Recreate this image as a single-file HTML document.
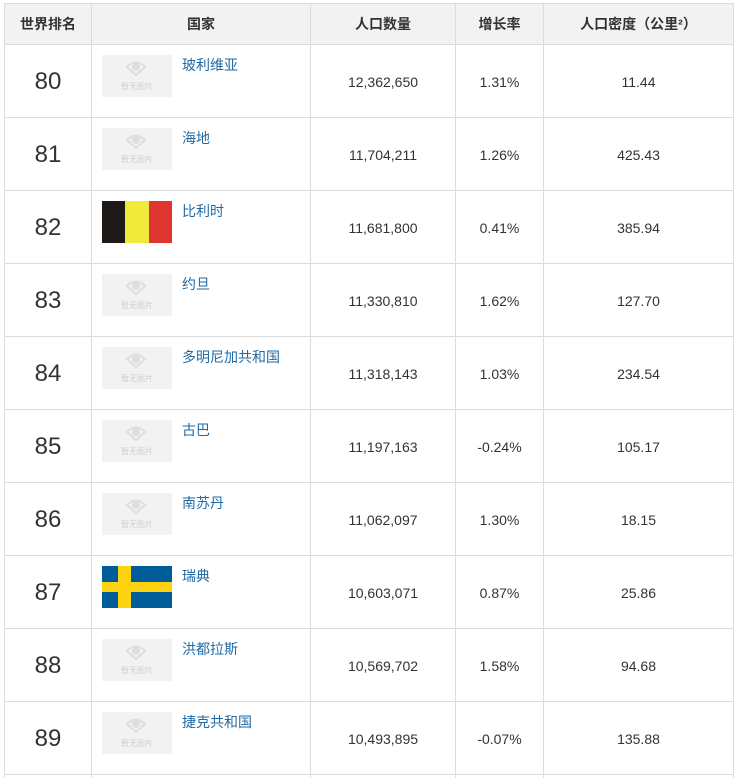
<!DOCTYPE html>
<html><head><meta charset="utf-8">
<style>
html,body{margin:0;padding:0;background:#fff;width:741px;height:778px;overflow:hidden;}
body{position:relative;font-family:"Liberation Sans","Noto Sans CJK SC",sans-serif;color:#333;}
.h{position:absolute;left:4px;width:730px;height:1px;background:#dcdcdc;}
.v{position:absolute;top:3px;height:775px;width:1px;background:#dcdcdc;}
.hdr{position:absolute;left:5px;top:4px;width:728px;height:40px;background:#f2f2f2;}
.c{position:absolute;display:flex;align-items:center;justify-content:center;white-space:nowrap;}
.hd{font-weight:bold;font-size:14px;top:4px;height:40px;line-height:20px;}
.rk{font-size:24px;padding-top:2px;box-sizing:border-box;}
.num{font-size:14px;padding-top:2px;box-sizing:border-box;}
.img{position:absolute;width:70px;height:42px;background:#f2f2f2;overflow:hidden;}
.img .ic{position:absolute;left:24px;top:5px;width:20px;height:16px;}
.img .tx{position:absolute;left:0;width:70px;top:27px;text-align:center;font-size:8px;line-height:10px;color:#cfcfcf;}
.nm{position:absolute;left:182px;font-size:14px;line-height:20px;color:#1f6aa5;white-space:nowrap;}
</style></head><body>
<div class="hdr"></div>
<div class="h" style="top:3px"></div>
<div class="h" style="top:44px"></div>
<div class="h" style="top:117px"></div>
<div class="h" style="top:190px"></div>
<div class="h" style="top:263px"></div>
<div class="h" style="top:336px"></div>
<div class="h" style="top:409px"></div>
<div class="h" style="top:482px"></div>
<div class="h" style="top:555px"></div>
<div class="h" style="top:628px"></div>
<div class="h" style="top:701px"></div>
<div class="h" style="top:774px"></div>
<div class="v" style="left:4px"></div>
<div class="v" style="left:91px"></div>
<div class="v" style="left:310px"></div>
<div class="v" style="left:455px"></div>
<div class="v" style="left:543px"></div>
<div class="v" style="left:733px"></div>

<div class="c hd" style="left:5px;width:86px">世界排名</div>
<div class="c hd" style="left:92px;width:218px">国家</div>
<div class="c hd" style="left:311px;width:144px">人口数量</div>
<div class="c hd" style="left:456px;width:87px">增长率</div>
<div class="c hd" style="left:544px;width:189px">人口密度（公里²）</div>

<!-- Row 80 -->
<div class="c rk" style="left:5px;width:86px;top:45px;height:72px">80</div>
<div class="img" style="left:102px;top:55px"><svg class="ic" viewBox="0 0 20 16"><path d="M1 7 Q10 -2 19 7 L10 15 Z" fill="none" stroke="#dedede" stroke-width="2"/><circle cx="10" cy="7" r="4" fill="#dedede"/></svg><div class="tx">暂无图片</div></div>
<div class="nm" style="top:55px">玻利维亚</div>
<div class="c num" style="left:311px;width:144px;top:45px;height:72px">12,362,650</div>
<div class="c num" style="left:456px;width:87px;top:45px;height:72px">1.31%</div>
<div class="c num" style="left:544px;width:189px;top:45px;height:72px">11.44</div>

<!-- Row 81 -->
<div class="c rk" style="left:5px;width:86px;top:118px;height:72px">81</div>
<div class="img" style="left:102px;top:128px"><svg class="ic" viewBox="0 0 20 16"><path d="M1 7 Q10 -2 19 7 L10 15 Z" fill="none" stroke="#dedede" stroke-width="2"/><circle cx="10" cy="7" r="4" fill="#dedede"/></svg><div class="tx">暂无图片</div></div>
<div class="nm" style="top:128px">海地</div>
<div class="c num" style="left:311px;width:144px;top:118px;height:72px">11,704,211</div>
<div class="c num" style="left:456px;width:87px;top:118px;height:72px">1.26%</div>
<div class="c num" style="left:544px;width:189px;top:118px;height:72px">425.43</div>

<!-- Row 82 -->
<div class="c rk" style="left:5px;width:86px;top:191px;height:72px">82</div>
<div style="position:absolute;left:102px;top:201px;width:70px;height:42px;display:flex">
<div style="width:23px;background:#1d1a18"></div><div style="width:24px;background:#f2ea3a"></div><div style="width:23px;background:#df3531"></div></div>
<div class="nm" style="top:201px">比利时</div>
<div class="c num" style="left:311px;width:144px;top:191px;height:72px">11,681,800</div>
<div class="c num" style="left:456px;width:87px;top:191px;height:72px">0.41%</div>
<div class="c num" style="left:544px;width:189px;top:191px;height:72px">385.94</div>

<!-- Row 83 -->
<div class="c rk" style="left:5px;width:86px;top:264px;height:72px">83</div>
<div class="img" style="left:102px;top:274px"><svg class="ic" viewBox="0 0 20 16"><path d="M1 7 Q10 -2 19 7 L10 15 Z" fill="none" stroke="#dedede" stroke-width="2"/><circle cx="10" cy="7" r="4" fill="#dedede"/></svg><div class="tx">暂无图片</div></div>
<div class="nm" style="top:274px">约旦</div>
<div class="c num" style="left:311px;width:144px;top:264px;height:72px">11,330,810</div>
<div class="c num" style="left:456px;width:87px;top:264px;height:72px">1.62%</div>
<div class="c num" style="left:544px;width:189px;top:264px;height:72px">127.70</div>

<!-- Row 84 -->
<div class="c rk" style="left:5px;width:86px;top:337px;height:72px">84</div>
<div class="img" style="left:102px;top:347px"><svg class="ic" viewBox="0 0 20 16"><path d="M1 7 Q10 -2 19 7 L10 15 Z" fill="none" stroke="#dedede" stroke-width="2"/><circle cx="10" cy="7" r="4" fill="#dedede"/></svg><div class="tx">暂无图片</div></div>
<div class="nm" style="top:347px">多明尼加共和国</div>
<div class="c num" style="left:311px;width:144px;top:337px;height:72px">11,318,143</div>
<div class="c num" style="left:456px;width:87px;top:337px;height:72px">1.03%</div>
<div class="c num" style="left:544px;width:189px;top:337px;height:72px">234.54</div>

<!-- Row 85 -->
<div class="c rk" style="left:5px;width:86px;top:410px;height:72px">85</div>
<div class="img" style="left:102px;top:420px"><svg class="ic" viewBox="0 0 20 16"><path d="M1 7 Q10 -2 19 7 L10 15 Z" fill="none" stroke="#dedede" stroke-width="2"/><circle cx="10" cy="7" r="4" fill="#dedede"/></svg><div class="tx">暂无图片</div></div>
<div class="nm" style="top:420px">古巴</div>
<div class="c num" style="left:311px;width:144px;top:410px;height:72px">11,197,163</div>
<div class="c num" style="left:456px;width:87px;top:410px;height:72px">-0.24%</div>
<div class="c num" style="left:544px;width:189px;top:410px;height:72px">105.17</div>

<!-- Row 86 -->
<div class="c rk" style="left:5px;width:86px;top:483px;height:72px">86</div>
<div class="img" style="left:102px;top:493px"><svg class="ic" viewBox="0 0 20 16"><path d="M1 7 Q10 -2 19 7 L10 15 Z" fill="none" stroke="#dedede" stroke-width="2"/><circle cx="10" cy="7" r="4" fill="#dedede"/></svg><div class="tx">暂无图片</div></div>
<div class="nm" style="top:493px">南苏丹</div>
<div class="c num" style="left:311px;width:144px;top:483px;height:72px">11,062,097</div>
<div class="c num" style="left:456px;width:87px;top:483px;height:72px">1.30%</div>
<div class="c num" style="left:544px;width:189px;top:483px;height:72px">18.15</div>

<!-- Row 87 -->
<div class="c rk" style="left:5px;width:86px;top:556px;height:72px">87</div>
<div style="position:absolute;left:102px;top:566px;width:70px;height:42px;background:#005b99">
<div style="position:absolute;left:16px;top:0;width:13px;height:42px;background:#fdd20f"></div>
<div style="position:absolute;left:0;top:16px;width:70px;height:10px;background:#fdd20f"></div></div>
<div class="nm" style="top:566px">瑞典</div>
<div class="c num" style="left:311px;width:144px;top:556px;height:72px">10,603,071</div>
<div class="c num" style="left:456px;width:87px;top:556px;height:72px">0.87%</div>
<div class="c num" style="left:544px;width:189px;top:556px;height:72px">25.86</div>

<!-- Row 88 -->
<div class="c rk" style="left:5px;width:86px;top:629px;height:72px">88</div>
<div class="img" style="left:102px;top:639px"><svg class="ic" viewBox="0 0 20 16"><path d="M1 7 Q10 -2 19 7 L10 15 Z" fill="none" stroke="#dedede" stroke-width="2"/><circle cx="10" cy="7" r="4" fill="#dedede"/></svg><div class="tx">暂无图片</div></div>
<div class="nm" style="top:639px">洪都拉斯</div>
<div class="c num" style="left:311px;width:144px;top:629px;height:72px">10,569,702</div>
<div class="c num" style="left:456px;width:87px;top:629px;height:72px">1.58%</div>
<div class="c num" style="left:544px;width:189px;top:629px;height:72px">94.68</div>

<!-- Row 89 -->
<div class="c rk" style="left:5px;width:86px;top:702px;height:72px">89</div>
<div class="img" style="left:102px;top:712px"><svg class="ic" viewBox="0 0 20 16"><path d="M1 7 Q10 -2 19 7 L10 15 Z" fill="none" stroke="#dedede" stroke-width="2"/><circle cx="10" cy="7" r="4" fill="#dedede"/></svg><div class="tx">暂无图片</div></div>
<div class="nm" style="top:712px">捷克共和国</div>
<div class="c num" style="left:311px;width:144px;top:702px;height:72px">10,493,895</div>
<div class="c num" style="left:456px;width:87px;top:702px;height:72px">-0.07%</div>
<div class="c num" style="left:544px;width:189px;top:702px;height:72px">135.88</div>
</body></html>
